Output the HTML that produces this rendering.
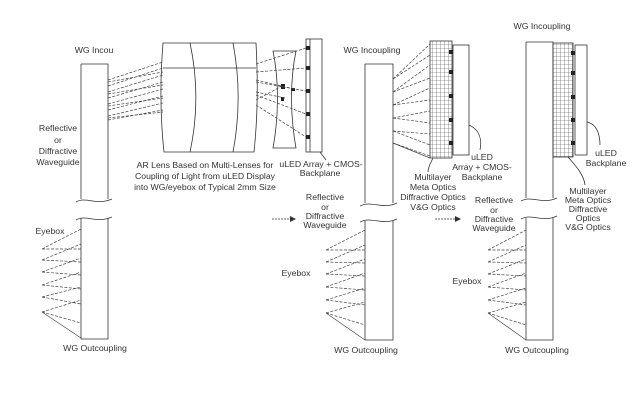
<!DOCTYPE html>
<html><head><meta charset="utf-8"><style>
html,body{margin:0;padding:0;background:#fff;}
svg{display:block;font-family:"Liberation Sans",sans-serif;font-size:8.7px;fill:#333;}
</style></head><body>
<svg width="644" height="407" viewBox="0 0 644 407" xmlns="http://www.w3.org/2000/svg">
<defs>
<pattern id="grid" width="4" height="4" patternUnits="userSpaceOnUse"><path d="M0 0H4M0 0V4" stroke="#444" stroke-width="0.6" fill="none"/></pattern>
</defs>
<g stroke="#333" stroke-width="0.8" fill="none">
<!-- WG1 -->
<path d="M81 64H108V199M81 64V199"/>
<path d="M76 202 C86 196,96 206,112 199"/>
<path d="M76 220 C86 214,96 224,112 217"/>
<path d="M81 218V339H108V218"/>
<!-- lens group -->
<path d="M163 43H256C258 80,258 115,254 152H164C160 115,160 80,163 43Z"/>
<path d="M163 68H256"/>
<path d="M190 43C198 80,198 115,190 152"/>
<path d="M233 43C240 80,240 115,233 152"/>
<path d="M273 51H296C290 80,290 115,296 148H273C279 115,279 80,273 51Z"/>
<rect x="306" y="39" width="16" height="113"/>
<path d="M310 39V152"/>
<path d="M320 152L326 160"/>
<!-- WG2 -->
<path d="M365 64H393V203M365 64V203"/>
<path d="M360 206C372 200,382 210,397 203"/>
<path d="M360 222C372 216,382 226,397 219"/>
<path d="M365 221V340H393V221"/>
<rect x="430" y="41" width="22" height="117" fill="url(#grid)"/>
<rect x="453" y="45" width="16" height="110"/>
<path d="M469 125C480 130,482 140,480 150"/>
<path d="M433 158C430 164,428 168,428 172"/>
<!-- WG3 -->
<path d="M526 42H553V198M526 42V198"/>
<path d="M521 201C532 195,542 205,557 198"/>
<path d="M521 219C532 213,542 223,557 216"/>
<path d="M526 218V340H553V218"/>
<rect x="553" y="43" width="20" height="114" fill="url(#grid)"/>
<rect x="575" y="45" width="12" height="110"/>
<path d="M587 122C597 124,600 135,600 145"/>
<path d="M568 157C576 166,584 175,585 185"/>
<!-- arrows -->
<path d="M272 219H290" stroke-dasharray="2 1"/>
<path d="M435 219H455" stroke-dasharray="2 1"/>
</g>
<path d="M290 216L296 219L290 222Z" fill="#333"/>
<path d="M455 216L461 219L455 222Z" fill="#333"/>
<!-- squares -->
<g fill="#222">
<rect x="306" y="46" width="4" height="4"/><rect x="306" y="66" width="4" height="4"/><rect x="306" y="89" width="4" height="4"/><rect x="306" y="112" width="4" height="4"/><rect x="306" y="135" width="4" height="4"/>
<rect x="281" y="84" width="4" height="5"/><rect x="281" y="97" width="3" height="4"/><rect x="291" y="88" width="4" height="3"/>
<rect x="449" y="50" width="4" height="4"/><rect x="449" y="70" width="4" height="4"/><rect x="449" y="94" width="4" height="4"/><rect x="449" y="118" width="4" height="4"/><rect x="449" y="141" width="4" height="4"/>
<rect x="571" y="51" width="4" height="4"/><rect x="571" y="71" width="4" height="4"/><rect x="571" y="95" width="4" height="4"/><rect x="571" y="118" width="4" height="4"/><rect x="571" y="141" width="4" height="4"/>
</g>
<!-- rays -->
<g stroke="#444" stroke-width="0.7" fill="none" stroke-dasharray="3 1.5">
<path d="M108 80L163 62M108 86L163 68M108 92L163 75M108 98L163 82M108 104L163 89M108 110L163 96M108 116L163 103M108 120L163 110"/>
<path d="M108 82L163 72M108 94L163 85M108 106L163 98M108 118L163 112"/>
<path d="M256 64L306 48M256 72L306 68M256 82L306 91M256 95L306 114M256 105L306 137"/>
<path d="M256 80L290 88M256 92L285 98M256 100L282 86"/>
<path d="M393 79L430 44M393 92L430 65M393 105L430 88M393 118L430 111M393 131L430 134M393 143L430 156"/>
<path d="M393 79L430 55M393 92L430 78M393 105L430 100M393 118L430 123M393 131L430 145"/>
<path d="M42 249L81 229M42 260L81 244M42 272L81 258M42 285L81 272M42 297L81 287M42 312L81 300"/>
<path d="M42 249L81 249M42 260L81 262M42 272L81 275M42 285L81 289M42 297L81 304M42 312L81 323"/>
<path d="M326 250L365 230M326 262L365 245M326 274L365 259M326 287L365 273M326 300L365 288M326 313L365 302"/>
<path d="M326 250L365 250M326 262L365 263M326 274L365 276M326 287L365 290M326 300L365 305M326 313L365 325"/>
<path d="M488 250L526 230M488 262L526 245M488 274L526 259M488 287L526 273M488 300L526 288M488 313L526 302"/>
<path d="M488 250L526 250M488 262L526 263M488 274L526 276M488 287L526 290M488 300L526 305M488 313L526 325"/>
</g>
<g stroke="#444" stroke-width="0.7" fill="none">
<path d="M42 312L81 338M326 313L365 340M488 313L526 340M393 143L430 158"/>
</g>
<!-- text -->
<g text-anchor="middle">
<text x="94" y="53">WG Incou</text>
<text x="58" y="131">Reflective</text><text x="58" y="143">or</text><text x="58" y="154">Diffractive</text><text x="58" y="165">Waveguide</text>
<text x="50" y="234">Eyebox</text>
<text x="95" y="351">WG Outcoupling</text>
<text x="205" y="168">AR Lens Based on Multi-Lenses for</text>
<text x="205" y="179">Coupling of Light from uLED Display</text>
<text x="205" y="190">into WG/eyebox of Typical 2mm Size</text>
<text x="321" y="167">uLED Array + CMOS-</text>
<text x="320" y="176">Backplane</text>
<text x="372" y="53">WG Incoupling</text>
<text x="482" y="160">uLED</text><text x="482" y="170">Array + CMOS-</text><text x="482" y="180">Backplane</text>
<text x="433" y="180">Multilayer</text><text x="433" y="190">Meta Optics</text><text x="433" y="200">Diffractive Optics</text><text x="433" y="210">V&amp;G Optics</text>
<text x="325" y="200">Reflective</text><text x="325" y="210">or</text><text x="325" y="219">Diffractive</text><text x="325" y="228">Waveguide</text>
<text x="296" y="276">Eyebox</text>
<text x="366" y="353">WG Outcoupling</text>
<text x="542" y="29">WG Incoupling</text>
<text x="606" y="156">uLED</text><text x="606" y="166">Backplane</text>
<text x="588" y="194">Multilayer</text><text x="588" y="203">Meta Optics</text><text x="588" y="212">Diffractive</text><text x="588" y="221">Optics</text><text x="588" y="230">V&amp;G Optics</text>
<text x="494" y="203">Reflective</text><text x="494" y="213">or</text><text x="494" y="222">Diffractive</text><text x="494" y="231">Waveguide</text>
<text x="467" y="284">Eyebox</text>
<text x="537" y="353">WG Outcoupling</text>
</g>
</svg>
</body></html>
